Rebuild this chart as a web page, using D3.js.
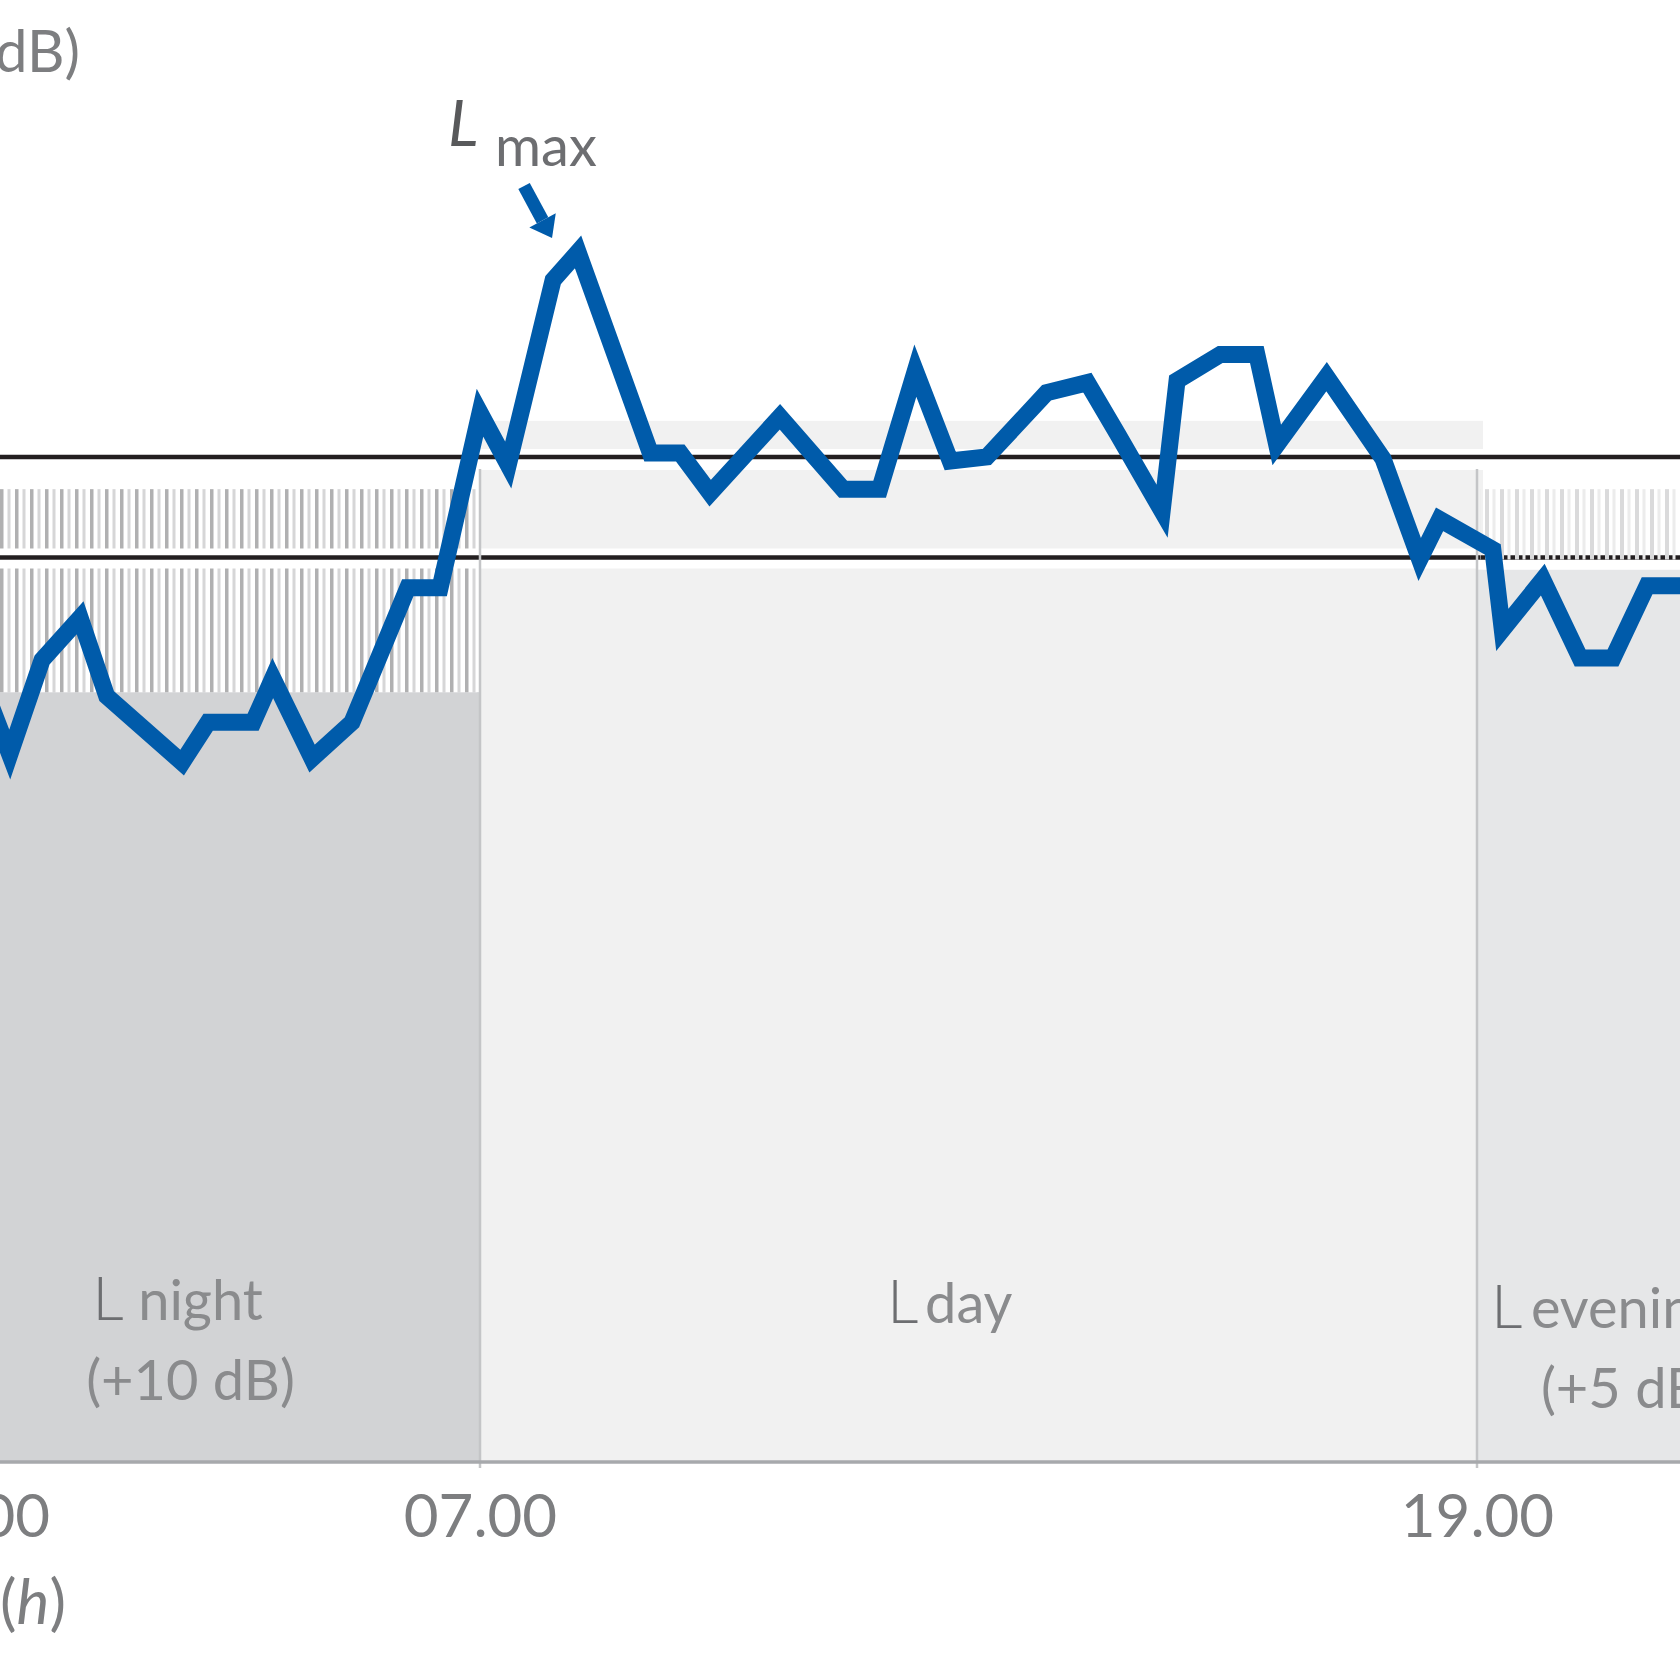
<!DOCTYPE html>
<html><head><meta charset="utf-8">
<script src="https://cdn.jsdelivr.net/npm/d3@7"></script>
<style>html,body{margin:0;padding:0;background:#fff}svg{display:block}</style>
</head><body>
<svg id="chart" width="1680" height="1680"></svg>
<script>
// ---- data (hours of the day, night shown as -1..7, i.e. 23.00 -> 07.00) ----
const hours = [-0.81,-0.42,0.09,0.69,1.11,2.30,2.71,3.42,3.73,4.35,4.98,5.86,6.37,7.00,
  7.34,7.88,8.18,9.05,9.41,9.77,10.61,11.37,11.81,12.24,12.66,13.10,13.82,14.31,14.68,
  15.21,15.39,15.91,16.35,16.59,17.19,17.87,18.31,18.55,19.25,19.40,20.04,20.63,21.15,21.69,22.53];
const levels = [58.4,55.2,59.9,62.0,58.1,54.8,56.8,56.8,59.0,55.0,56.8,63.5,63.5,72.2,
  69.6,78.8,80.2,70.2,70.2,68.2,72.0,68.4,68.4,74.3,69.8,70.0,73.2,73.7,71.1,
  67.3,73.8,75.1,75.1,70.6,74.0,69.9,64.9,66.9,65.4,61.4,63.9,60.0,60.0,63.6,63.6];
const periodNames = ["night", "day", "evening"];
const periodStart = [-1, 7, 19];
const periodEnd = [7, 19, 23];
const periodPenalty = ["(+10 dB)", "", "(+5 dB)"];
const periodLabelHour = [0.88, 11.90, 19.22];
const tickHours = [-1, 7, 19];
const tickLabels = ["23.00", "07.00", "19.00"];
const thresholds = [65, 70];
// schematic band levels (dB)
const nightSolidTop = 58.3, nightHatchTop = 68.4;
const dayTop = 71.8;
const eveningSolidTop = 64.4, eveningHatchTop = 68.4, eveningHatchBottom = 64.9;
const yMin = 20;

// ---- scales ----
const W = 1680, H = 1680;
const x = d3.scaleLinear().domain([-1, 7, 19, 23]).range([-27, 480, 1477, 1730]);
const y = d3.scaleLinear().domain([20, 70]).range([1462, 457]);
const axisY = y(yMin);

const svg = d3.select("#chart");
const FONT = "Lato, 'Noto Sans', 'DejaVu Sans', sans-serif";
const BLUE = "#005baa";

// patterns
const defs = svg.append("defs");
const pn = defs.append("pattern").attr("id", "hatchNight").attr("patternUnits", "userSpaceOnUse")
  .attr("width", 15).attr("height", 20);
pn.append("rect").attr("width", 15).attr("height", 20).attr("fill", "#fff");
pn.append("rect").attr("x", 0).attr("width", 3.5).attr("height", 20).attr("fill", "#b0b0b1");
pn.append("rect").attr("x", 7.5).attr("width", 3).attr("height", 20).attr("fill", "#d6d6d7");
const pe = defs.append("pattern").attr("id", "hatchEve").attr("patternUnits", "userSpaceOnUse")
  .attr("width", 15).attr("height", 20);
pe.append("rect").attr("x", 0).attr("width", 4).attr("height", 20).attr("fill", "#dadadb");
pe.append("rect").attr("x", 7.5).attr("width", 3).attr("height", 20).attr("fill", "#ececec");

// ---- background bands ----
const g = svg.append("g");
g.append("rect").attr("x", x(7)).attr("y", y(dayTop)).attr("width", x(19) - x(7) + 6)
  .attr("height", axisY - y(dayTop)).attr("fill", "#f1f1f1");
g.append("rect").attr("x", x(-1)).attr("y", y(nightSolidTop)).attr("width", x(7) - x(-1))
  .attr("height", axisY - y(nightSolidTop)).attr("fill", "#d2d3d5");
g.append("rect").attr("x", x(-1)).attr("y", y(nightHatchTop)).attr("width", x(7) - x(-1) - 3)
  .attr("height", y(nightSolidTop) - y(nightHatchTop)).attr("fill", "url(#hatchNight)");
g.append("rect").attr("x", x(19)).attr("y", y(eveningSolidTop)).attr("width", x(23) - x(19))
  .attr("height", axisY - y(eveningSolidTop)).attr("fill", "#e6e7e8");

// white halos around threshold lines
g.append("rect").attr("x", 0).attr("y", y(70) - 8).attr("width", W).attr("height", 21).attr("fill", "#fff");
g.append("rect").attr("x", 0).attr("y", y(65) - 9).attr("width", x(19)).attr("height", 20).attr("fill", "#fff");
g.append("rect").attr("x", x(19)).attr("y", y(65)).attr("width", W - x(19)).attr("height", y(eveningSolidTop) - y(65)).attr("fill", "#fff");

// threshold lines
g.selectAll("line.thr").data(thresholds).join("line").attr("class", "thr")
  .attr("x1", 0).attr("x2", W).attr("y1", d => y(d)).attr("y2", d => y(d))
  .attr("stroke", "#231f20").attr("stroke-width", 4.5);

// evening hatch (over the line, transparent between stripes)
g.append("rect").attr("x", x(19) + 3).attr("y", y(eveningHatchTop)).attr("width", x(23) - x(19))
  .attr("height", y(eveningHatchBottom) - y(eveningHatchTop)).attr("fill", "url(#hatchEve)");

// separators
g.selectAll("line.sep").data([7, 19]).join("line").attr("class", "sep")
  .attr("x1", d => x(d)).attr("x2", d => x(d)).attr("y1", y(69.4)).attr("y2", axisY + 6)
  .attr("stroke", "#c4c5c7").attr("stroke-width", 2.5);

// x axis line
g.append("line").attr("x1", 0).attr("x2", W).attr("y1", axisY).attr("y2", axisY)
  .attr("stroke", "#a7a9ac").attr("stroke-width", 3.5);

// tick labels via axis
const xAxis = d3.axisBottom(x).tickValues(tickHours).tickFormat((d, i) => tickLabels[i]).tickSize(0).tickPadding(0);
const ax = svg.append("g").attr("transform", `translate(0,${axisY})`).call(xAxis);
ax.select(".domain").remove();
ax.selectAll("text").attr("font-family", FONT).attr("font-size", 60).attr("fill", "#7d7e80")
  .attr("dy", null).attr("y", 75);

// ---- series line ----
const pts = hours.map((h, i) => [h, levels[i]]);
const line = d3.line().x(d => x(d[0])).y(d => y(d[1]));
svg.append("path").datum(pts).attr("d", line).attr("fill", "none").attr("stroke", BLUE)
  .attr("stroke-width", 17).attr("stroke-linejoin", "miter").attr("stroke-miterlimit", 6);

// ---- Lmax annotation ----
const iMax = d3.maxIndex(levels);
const mx = x(hours[iMax]), my = y(levels[iMax]);
const tail = [mx - 54, my - 66], tip = [mx - 26, my - 14];
const dx = tip[0] - tail[0], dy = tip[1] - tail[1], len = Math.hypot(dx, dy);
const ux = dx / len, uy = dy / len, px = -uy, py = ux;
const base = [tip[0] - 20 * ux, tip[1] - 20 * uy];
svg.append("line").attr("x1", tail[0]).attr("y1", tail[1]).attr("x2", base[0]).attr("y2", base[1])
  .attr("stroke", BLUE).attr("stroke-width", 13);
svg.append("path").attr("fill", BLUE).attr("d",
  `M${tip[0]},${tip[1]} L${base[0] + 15 * px},${base[1] + 15 * py} L${base[0] - 15 * px},${base[1] - 15 * py} Z`);
svg.append("text").attr("x", mx - 130).attr("y", my - 106).attr("font-family", FONT)
  .attr("font-size", 64).attr("font-style", "italic").attr("fill", "#58595b").text("L");
svg.append("text").attr("x", mx - 83).attr("y", my - 86).attr("font-family", FONT)
  .attr("font-size", 56).attr("fill", "#6d6e71").text("max");

// ---- period labels ----
const subOff = [46, 38, 40];
const lineOff = [-142, -139, -134];
const penOff = [-6, 0, 50];
periodNames.forEach((name, i) => {
  const lx = x(periodLabelHour[i]);
  svg.append("text").attr("x", lx).attr("y", axisY + lineOff[i]).attr("font-family", FONT)
    .attr("font-size", 62).attr("font-weight", 300).attr("fill", "#6d6e71").text("L");
  svg.append("text").attr("x", lx + subOff[i]).attr("y", axisY + lineOff[i]).attr("font-family", FONT)
    .attr("font-size", 56).attr("fill", "#8a8b8d").text(name);
  if (periodPenalty[i]) {
    svg.append("text").attr("x", lx + penOff[i]).attr("y", axisY + lineOff[i] + 80).attr("font-family", FONT)
      .attr("font-size", 56).attr("fill", "#8a8b8d").text(periodPenalty[i]);
  }
});

// ---- axis titles (cropped in the original) ----
svg.append("text").attr("x", 80).attr("y", 72).attr("text-anchor", "end").attr("font-family", FONT)
  .attr("font-size", 58).attr("fill", "#7d7e80").text("(dB)");
const th = svg.append("text").attr("x", 0).attr("y", 1624).attr("font-family", FONT)
  .attr("font-size", 62).attr("fill", "#7d7e80");
th.append("tspan").text("(");
th.append("tspan").attr("font-style", "italic").text("h");
th.append("tspan").text(")");
</script>
</body></html>
